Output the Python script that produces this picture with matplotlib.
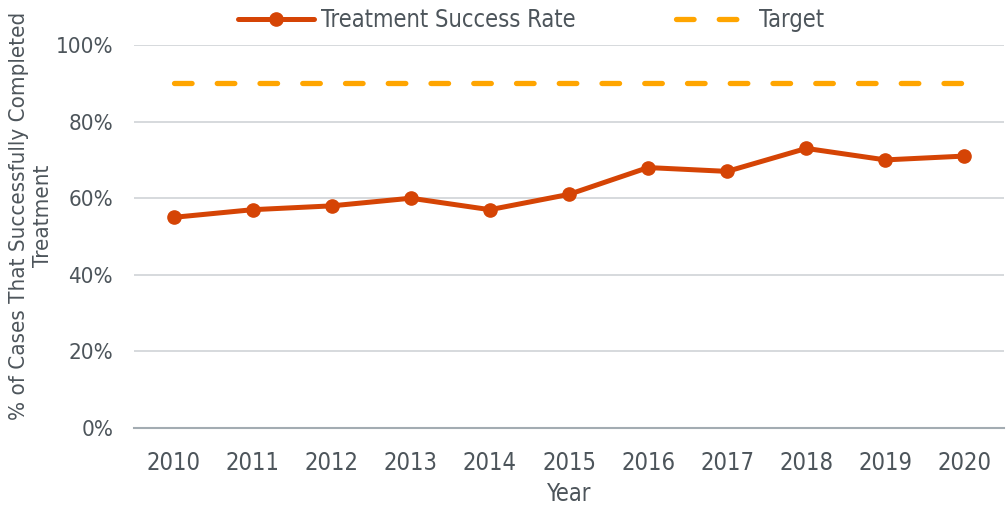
import matplotlib
matplotlib.use("Agg")
import matplotlib.pyplot as plt
from matplotlib.ticker import PercentFormatter
from matplotlib import font_manager

years = ["2010", "2011", "2012", "2013", "2014", "2015", "2016", "2017", "2018", "2019", "2020"]
success_rate = [55, 57, 58, 60, 57, 61, 68, 67, 73, 70, 71]
target = [90, 90, 90, 90, 90, 90, 90, 90, 90, 90, 90]
y_ticks = [0, 20, 40, 60, 80, 100]

names = {f.name for f in font_manager.fontManager.ttflist}
fam = "Liberation Sans Narrow" if "Liberation Sans Narrow" in names else "DejaVu Sans"
plt.rcParams["font.family"] = [fam, "DejaVu Sans"]
if fam == "DejaVu Sans":
    plt.rcParams["font.stretch"] = "condensed"

text_color = "#4d555b"
fs = 17

fig = plt.figure(figsize=(10.08, 5.11), dpi=100)
ax = fig.add_axes([134 / 1008, 1 - 428 / 511, (1004 - 134) / 1008, (428 - 45) / 511])

x = list(range(len(years)))
ax.plot(x, target, color="#FFA500", lw=3.8, linestyle=(0, (3.33, 4.77)),
        dash_capstyle="round", label="Target", zorder=3)
ax.plot(x, success_rate, color="#D54405", lw=3.6, marker="o", markersize=9.5,
        solid_capstyle="round", label="Treatment Success Rate", zorder=4)

ax.set_xlim(-0.5, len(years) - 0.5)
ax.set_ylim(0, 100)
ax.set_yticks(y_ticks)
ax.yaxis.set_major_formatter(PercentFormatter(decimals=0))
ax.set_xticks(x)
ax.set_xticklabels(years)
ax.grid(axis="y", color="#d3d7da", lw=1.3)
ax.set_axisbelow(True)
for s in ["top", "right", "left"]:
    ax.spines[s].set_visible(False)
ax.spines["bottom"].set_color("#a3acb2")
ax.spines["bottom"].set_linewidth(1.5)
ax.tick_params(axis="both", length=0, labelsize=fs, colors=text_color)
ax.tick_params(axis="y", pad=15, labelsize=16)
ax.tick_params(axis="x", pad=16.5)

ax.set_xlabel("Year", fontsize=fs, color=text_color, labelpad=5)
fig.text(31 / 1008, 1 - 216 / 511, "% of Cases That Successfully Completed\nTreatment",
         fontsize=16, color=text_color, rotation=90, ha="center", va="center",
         linespacing=1.2, multialignment="center")

h, l = ax.get_legend_handles_labels()
leg = fig.legend([h[1], h[0]], [l[1], l[0]], loc="upper center", bbox_to_anchor=(0.527, 1.025),
                 ncol=2, frameon=False, fontsize=fs, handlelength=3.2, columnspacing=4.26,
                 handletextpad=0.3)
for t in leg.get_texts():
    t.set_color(text_color)

fig.savefig("out.png", dpi=100)
